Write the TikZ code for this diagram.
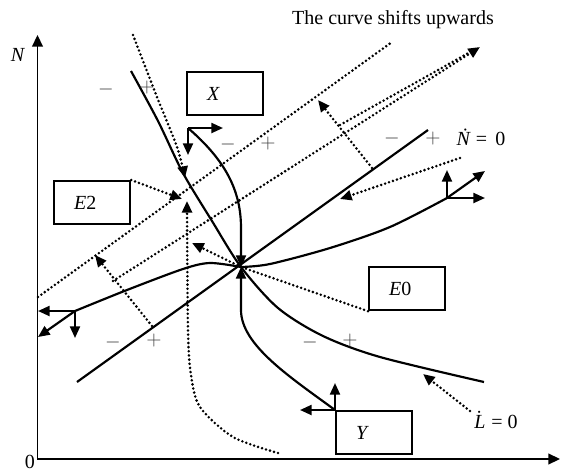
\documentclass[tikz,border=0pt,12pt]{standalone}
\usepackage{amsmath}
\usepackage{fontspec}
\setmainfont{Liberation Serif}
\usetikzlibrary{positioning, arrows.meta, calc}
\tikzset{
  axis/.style={line width=0.9pt},
  solid curve/.style={line width=1.3pt},
  shifted/.style={line width=1.7pt, line cap=round, dash pattern=on 0pt off 2.5pt},
  tip/.style={-{Triangle[length=7pt,width=6pt]}},
  eqbox/.style={
    draw, line width=1.3pt,
    anchor=north west,
    minimum height=25.8pt,
    text width=21.6pt,
    inner xsep=12pt,
    align=left
  },
  sign/.style={text=black!75}
}

\begin{document}
\begin{tikzpicture}[x=0.6pt, y=-0.6pt]
  \useasboundingbox (0,0) rectangle (570,471);

  % axes
  \coordinate (O) at (37.5,459);
  \coordinate (ytip) at (37.5,35);
  \coordinate (xtip) at (560,459);
  \draw[axis, {Triangle[length=7pt,width=6.5pt]}-{Triangle[length=7pt,width=6.5pt]}] (ytip) |- (xtip);
  \node (Nlab) at (18,55) {\textit{N}};
  \node (zero) at (30,462) {0};
  \node (title) at (393,20) {The curve shifts upwards};

  % equilibria and corners
  \coordinate (E0) at (241,267);
  \coordinate (E2) at (185,190);
  \coordinate (cX) at (188,128);
  \coordinate (cR) at (447,198);
  \coordinate (cL) at (75,311);

  % boxes
  \node[eqbox] (xbox) at (186,71) {\textit{X}};
  \node[eqbox] (e2box) at (53,180) {\raisebox{-3pt}{\textit{E}2}};
  \node[eqbox] (e0box) at (368,266) {\textit{E}0};
  \node[eqbox] (ybox) at (335,410) {\textit{Y}};
  \coordinate (cY) at (ybox.north west);

  % Ndot = 0 line and its shift
  \coordinate (Nlo) at (77,382);
  \coordinate (Nhi) at (428,130);
  \draw[solid curve] (Nlo) -- (Nhi);
  \coordinate (Slo) at (38,297);
  \coordinate (Shi) at (392,42);
  \draw[shifted] (Slo) -- (Shi);
  \draw[shifted, tip] (152,326) -- (95,255);
  \draw[shifted, tip] (372,168) -- (318,100);
  \draw[shifted, tip] (113,281) -- (480,47);
  \draw[shifted] (340,125) -- (472,51);

  % Ldot = 0 curve and its shift
  \draw[solid curve] plot[smooth] coordinates {(131,71) (158,121) (183,173) (212,221) (E0) (278,308) (323,336) (380,357) (484,382)};
  \draw[shifted, tip] plot[smooth] coordinates {(133,35) (157,97) (177,147) (185,178)};
  \draw[shifted, tip] plot[smooth] coordinates {(278,453) (233,437) (200,407) (191,375) (188,330) (187,201)};

  % stable arms
  \draw[solid curve, tip] (cX) .. controls (225,160) and (241,190) .. (241,228) -- (E0);
  \draw[solid curve, tip] (cY) .. controls (290,377) and (241,345) .. (241,310) -- (E0);

  % unstable arms
  \draw[solid curve] plot[smooth] coordinates {(cL) (127,290) (183,269) (210,263) (E0)};
  \draw[solid curve] plot[smooth] coordinates {(E0) (270,264) (330,248) (390,227) (cR)};

  % direction arrows at the corners
  \draw[solid curve, tip] (cX) -- ++(35,0);
  \draw[solid curve, tip] (cX) -- ++(0,27);
  \draw[solid curve, tip] (cY) -- ++(-35,0);
  \draw[solid curve, tip] (cY) -- ++(0,-27);
  \draw[solid curve, tip] (cR) -- ++(0,-28);
  \draw[solid curve, tip] (cR) -- ++(38,0);
  \draw[solid curve, tip] (cR) -- ++(38,-27);
  \draw[solid curve, tip] (cL) -- ++(-37,0);
  \draw[solid curve, tip] (cL) -- ++(0,27);
  \draw[solid curve, tip] (cL) -- ++(-37,26);

  % labels and pointers
  \node (ndot) at (481,137) {\textit{Ṅ} = \,0};
  \node (ldot) at (496,420) {\textit{L̇}\kern-0.25em{} = 0};
  \draw[shifted, tip] (460,158) -- (340,199);
  \draw[shifted, tip] (470,411) -- (423,374);
  \draw[shifted] (e0box.south west) -- (E0);
  \draw[shifted, tip] (E0) -- (192,243);
  \draw[shifted, tip] (e2box.north east) -- (182,199);

  % signs
  \node[sign] (m1) at (106,89) {$-$};
  \node[sign] (p1) at (147,87) {$+$};
  \node[sign] (m2) at (228,144) {$-$};
  \node[sign] (p2) at (268,143) {$+$};
  \node[sign] (m3) at (392,138) {$-$};
  \node[sign] (p3) at (433,138) {$+$};
  \node[sign] (m4) at (113,342) {$-$};
  \node[sign] (p4) at (154,340) {$+$};
  \node[sign] (m5) at (310,342) {$-$};
  \node[sign] (p5) at (350,340) {$+$};
\end{tikzpicture}
\end{document}
